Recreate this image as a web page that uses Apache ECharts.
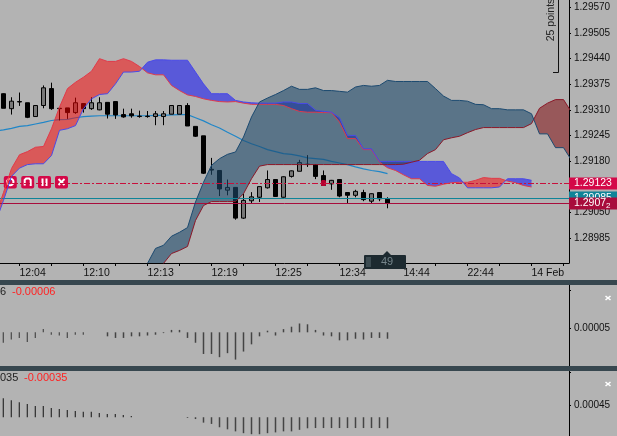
<!DOCTYPE html>
<html>
<head>
<meta charset="utf-8">
<title>Ichimoku chart</title>
<script src="https://cdn.jsdelivr.net/npm/echarts@6/dist/echarts.min.js"></script>
<style>
  html, body { margin: 0; padding: 0; background: #b3b3b3; }
  #chart { width: 617px; height: 436px; }
</style>
</head>
<body>
<div id="chart"></div>
<script>
// candles
const candleOpen = [1.29351,1.29313,1.29331,1.29328,1.29293,1.29321,1.29364,1.29314,1.29315,1.29303,1.29326,1.29313,1.29310,1.29329,1.29331,1.29298,1.29300,1.29294,1.29294,1.29293,1.29293,1.29299,1.29299,1.29321,1.29268,1.29244,1.29159,1.29156,1.29106,1.29113,1.29035,1.29079,1.29088,1.29112,1.29133,1.29088,1.29141,1.29154,1.29172,1.29171,1.29143,1.29122,1.29133,1.29100,1.29093,1.29100,1.29078,1.29100,1.29083];
const candleClose = [1.29314,1.29332,1.29330,1.29291,1.29321,1.29366,1.29313,1.29313,1.29303,1.29328,1.29313,1.29328,1.29328,1.29299,1.29297,1.29292,1.29295,1.29293,1.29293,1.29300,1.29300,1.29321,1.29321,1.29269,1.29243,1.29149,1.29157,1.29109,1.29113,1.29035,1.29080,1.29089,1.29115,1.29133,1.29090,1.29140,1.29155,1.29176,1.29171,1.29141,1.29118,1.29131,1.29091,1.29093,1.29103,1.29082,1.29097,1.29084,1.29072];
const candleLow = [1.29314,1.29298,1.29320,1.29289,1.29292,1.29314,1.29310,1.29283,1.29287,1.29300,1.29303,1.29310,1.29309,1.29288,1.29287,1.29290,1.29290,1.29290,1.29290,1.29271,1.29271,1.29299,1.29299,1.29269,1.29241,1.29147,1.29145,1.29091,1.29093,1.29031,1.29033,1.29073,1.29076,1.29110,1.29089,1.29087,1.29138,1.29154,1.29165,1.29134,1.29117,1.29107,1.29088,1.29072,1.29088,1.29078,1.29072,1.29078,1.29060];
const candleHigh = [1.29352,1.29342,1.29354,1.29328,1.29322,1.29372,1.29379,1.29314,1.29315,1.29341,1.29326,1.29342,1.29342,1.29329,1.29331,1.29313,1.29313,1.29308,1.29307,1.29307,1.29307,1.29322,1.29322,1.29327,1.29268,1.29244,1.29188,1.29156,1.29133,1.29113,1.29097,1.29101,1.29115,1.29156,1.29133,1.29141,1.29156,1.29183,1.29195,1.29172,1.29156,1.29132,1.29134,1.29100,1.29107,1.29107,1.29098,1.29100,1.29088];

// moving average, first value is the bar left of the window
const maLine = [1.29256,1.29259,1.29263,1.29268,1.29270,1.29274,1.29278,1.29283,1.29285,1.29286,1.29290,1.29293,1.29294,1.29295,1.29295,1.29295,1.29295,1.29295,1.29295,1.29295,1.29296,1.29296,1.29297,1.29298,1.29298,1.29290,1.29282,1.29272,1.29264,1.29253,1.29243,1.29232,1.29224,1.29217,1.29209,1.29204,1.29199,1.29197,1.29193,1.29188,1.29186,1.29184,1.29179,1.29175,1.29171,1.29165,1.29160,1.29156,1.29153,1.29148];

// fast cloud (red / blue), first value is the bar left of the window
const spanA = [1.29042,1.29100,1.29161,1.29196,1.29204,1.29215,1.29217,1.29262,1.29317,1.29364,1.29380,1.29393,1.29408,1.29440,1.29433,1.29433,1.29440,1.29433,1.29420,1.29404,1.29399,1.29399,1.29372,1.29359,1.29348,1.29344,1.29338,1.29334,1.29331,1.29330,1.29331,1.29327,1.29324,1.29324,1.29324,1.29324,1.29321,1.29313,1.29306,1.29304,1.29304,1.29303,1.29303,1.29279,1.29237,1.29237,1.29209,1.29209,1.29177,1.29163,1.29156,1.29145,1.29135,1.29135,1.29118,1.29116,1.29121,1.29125,1.29126,1.29126,1.29131,1.29138,1.29136,1.29136,1.29129,1.29125,1.29118,1.29114];
const spanB = [1.29024,1.29080,1.29141,1.29162,1.29171,1.29173,1.29173,1.29194,1.29258,1.29262,1.29270,1.29313,1.29338,1.29349,1.29351,1.29376,1.29406,1.29406,1.29408,1.29431,1.29437,1.29437,1.29436,1.29436,1.29436,1.29406,1.29376,1.29351,1.29351,1.29351,1.29334,1.29330,1.29328,1.29327,1.29327,1.29327,1.29330,1.29330,1.29326,1.29326,1.29309,1.29306,1.29304,1.29290,1.29245,1.29245,1.29211,1.29211,1.29179,1.29179,1.29179,1.29179,1.29179,1.29179,1.29179,1.29179,1.29179,1.29148,1.29137,1.29112,1.29112,1.29112,1.29112,1.29114,1.29135,1.29135,1.29135,1.29131];

// slow cloud (maroon / slate), starts at the 19th bar
const spanC = [1.28864,1.28889,1.28920,1.28945,1.28953,1.28963,1.29029,1.29067,1.29077,1.29077,1.29077,1.29077,1.29097,1.29135,1.29167,1.29171,1.29171,1.29171,1.29171,1.29171,1.29171,1.29171,1.29171,1.29171,1.29171,1.29171,1.29171,1.29171,1.29171,1.29171,1.29171,1.29171,1.29172,1.29177,1.29182,1.29199,1.29209,1.29234,1.29239,1.29243,1.29252,1.29260,1.29265,1.29265,1.29265,1.29265,1.29265,1.29265,1.29275,1.29314,1.29327,1.29336,1.29336,1.29304];
const spanD = [1.28920,1.28958,1.28966,1.28989,1.28999,1.29011,1.29076,1.29126,1.29169,1.29186,1.29197,1.29203,1.29241,1.29292,1.29330,1.29340,1.29349,1.29359,1.29370,1.29362,1.29362,1.29366,1.29359,1.29359,1.29357,1.29355,1.29368,1.29372,1.29370,1.29372,1.29385,1.29382,1.29382,1.29382,1.29382,1.29382,1.29364,1.29345,1.29334,1.29334,1.29332,1.29324,1.29323,1.29313,1.29313,1.29310,1.29310,1.29310,1.29300,1.29249,1.29249,1.29214,1.29214,1.29182];

// lower panels
const histA = [-0.00013,-0.00009,-0.00007,-0.00012,-0.00007,0.00004,-0.00003,-0.00004,-0.00007,-0.00003,-0.00003,null,null,-0.00005,-0.00007,-0.00007,-0.00005,-0.00005,-0.00004,-0.00003,-0.00001,0.00003,0.00003,-0.00007,-0.00013,-0.00027,-0.00027,-0.00031,-0.00026,-0.00034,-0.00024,-0.00015,-0.00005,0.00002,-0.00004,0.00004,0.00007,0.00011,0.0001,0.00003,-0.00004,-0.00005,-0.0001,-0.0001,-0.00008,-0.00009,-0.00007,-0.00007,-0.00008];
const histB = [0.00074,0.00066,0.00058,0.00052,0.00044,0.00044,0.00036,0.00032,0.00028,0.00024,0.00021,0.00021,0.00017,0.00013,0.00013,0.00009,0.00005,null,null,null,null,null,null,-0.00003,-0.00007,-0.00021,-0.00026,-0.00039,-0.00047,-0.00055,-0.00062,-0.00066,-0.00066,-0.00062,-0.00059,-0.00055,-0.00055,-0.00049,-0.00043,-0.00042,-0.00042,-0.00042,-0.00042,-0.00042,-0.00042,-0.00042,-0.00042,-0.00042,-0.00043];

// axis labels
const timeIndex = [2, 10, 18, 26, 34, 42, 50, 58, 66];
const timeLabels = ['12:04', '12:10', '12:13', '12:19', '12:25', '12:34', '14:44', '22:44', '14 Feb'];
const timeTicks = [2, 6, 10, 14, 18, 22, 26, 30, 34, 38, 42, 46, 50, 54, 58, 62, 66, 70];
const priceTicks = [1.2957, 1.29505, 1.2944, 1.29375, 1.2931, 1.29245, 1.2918, 1.29115, 1.2905, 1.28985];
const histATicks = [0.00053, 0.00005];
const histBTicks = [0.00176, 0.00045];

const levels = { bid: 1.29123, teal: 1.29085, ask: 1.29072 };
const crossBar = [40, 1.29124];

const FONT = 'Liberation Sans';
const X_MIN = -0.4375;
const X_MAX = 70.6875;

/** 把两条线按交叉点拆成连续的几块,避免相邻多边形接缝 */
function cloudRuns(a, b, start) {
  const runs = [];
  let upper = [];
  let lower = [];
  let sign = 0;
  const flush = () => {
    if (upper.length > 1) runs.push({ up: sign > 0, points: upper.concat(lower.slice().reverse()) });
    upper = [];
    lower = [];
  };
  a.forEach((v, i) => {
    const x = i + start;
    const d = v - b[i];
    const s = d >= 0 ? 1 : -1;
    if (sign && s !== sign) {
      const prev = a[i - 1] - b[i - 1];
      const t = prev / (prev - d);
      const mid = [x - 1 + t, a[i - 1] + (v - a[i - 1]) * t];
      upper.push(mid);
      lower.push(mid);
      flush();
      upper.push(mid);
      lower.push(mid);
    }
    sign = s;
    upper.push([x, v]);
    lower.push([x, b[i]]);
  });
  flush();
  return runs;
}

function cloudSeries(a, b, start, upColor, downColor, z) {
  const runs = cloudRuns(a, b, start);
  return {
    type: 'custom',
    xAxisIndex: 0,
    yAxisIndex: 0,
    clip: true,
    silent: true,
    z: z,
    data: runs.map((r, i) => [i]),
    encode: { x: 0 },
    renderItem(params, api) {
      const run = runs[api.value(0)];
      return {
        type: 'polygon',
        shape: { points: run.points.map((p) => api.coord(p)) },
        style: { fill: run.up ? upColor : downColor }
      };
    }
  };
}

function edgeLine(values, start, color, z, width) {
  return {
    type: 'line',
    xAxisIndex: 0,
    yAxisIndex: 0,
    data: values.map((v, i) => [i + start, v]),
    showSymbol: false,
    clip: true,
    silent: true,
    z: z,
    lineStyle: { color: color, width: width || 1 }
  };
}

function histSeries(values, idx, from, to, width, color) {
  return {
    type: 'bar',
    xAxisIndex: idx,
    yAxisIndex: idx,
    barWidth: width,
    barGap: '-100%',
    silent: true,
    itemStyle: { color: color },
    data: values.map((v, i) => [i, v]).slice(from, to)
  };
}

function levelItem(value, text, bg, lineStyle, boxHeight) {
  return {
    yAxis: value,
    lineStyle: lineStyle,
    label: {
      show: true,
      position: 'end',
      distance: 0,
      formatter: text,
      color: '#fff',
      fontFamily: FONT,
      fontSize: 10.5,
      backgroundColor: bg,
      width: 43,
      height: boxHeight,
      lineHeight: boxHeight,
      padding: [0, 0, 0, 5],
      rich: { s: { color: '#fff', fontFamily: FONT, fontSize: 8, verticalAlign: 'bottom', lineHeight: boxHeight } }
    }
  };
}

function closeMark(x, y) {
  const line = (x1, y1, x2, y2) => ({
    type: 'line',
    shape: { x1: x1, y1: y1, x2: x2, y2: y2 },
    style: { stroke: '#fff', lineWidth: 1.6 }
  });
  return { type: 'group', x: x, y: y, children: [line(-2.5, -2, 2.5, 2), line(-2.5, 2, 2.5, -2)] };
}

function iconButton(x, glyphs) {
  return {
    type: 'group',
    x: x,
    y: 182,
    z: 20,
    children: [
      { type: 'rect', shape: { x: -6.5, y: -6, width: 13, height: 12.5, r: 2 }, style: { fill: '#d40848' } }
    ].concat(glyphs)
  };
}

const white = { stroke: '#fff', fill: null, lineWidth: 2 };
const icons = [
  iconButton(10.3, [{ type: 'circle', shape: { cx: 0, cy: 0, r: 3.2 }, style: white }]),
  iconButton(27.7, [{ type: 'polyline', shape: { points: [[-3, 3.5], [-3, -2], [-1.5, -3.5], [1.5, -3.5], [3, -2], [3, 4]] }, style: white }]),
  iconButton(44.5, [
    { type: 'line', shape: { x1: -2, y1: -3.5, x2: -2, y2: 4 }, style: white },
    { type: 'line', shape: { x1: 2, y1: -3.5, x2: 2, y2: 4 }, style: white }
  ]),
  iconButton(61.5, [
    { type: 'line', shape: { x1: -3, y1: -3, x2: 3, y2: 3 }, style: white },
    { type: 'line', shape: { x1: -3, y1: 3, x2: 3, y2: -3 }, style: white }
  ])
];

const grip = [0, 1, 2, 3, 4].map((n) => ({
  type: 'line',
  shape: { x1: 366, y1: 258 + n * 2, x2: 371, y2: 258 + n * 2 },
  style: { stroke: '#5d6c72', lineWidth: 1 },
  z: 21
}));

const graphics = [
  // separators
  { type: 'rect', shape: { x: 0, y: 280, width: 617, height: 5 }, style: { fill: '#37474f' }, z: 10 },
  { type: 'rect', shape: { x: 0, y: 366, width: 617, height: 5 }, style: { fill: '#37474f' }, z: 10 },
  // 25 points ruler
  { type: 'polyline', shape: { points: [[558.5, -1], [558.5, 72.5], [553, 72.5]] }, style: { stroke: '#111', fill: null, lineWidth: 1 } },
  { type: 'text', x: 551, y: 20, rotation: Math.PI / 2, style: { text: '25 points', fill: '#222', font: '10.5px "' + FONT + '"', align: 'center', verticalAlign: 'middle' } },
  // bar counter
  { type: 'polygon', shape: { points: [[383, 255], [387, 251], [391, 255]] }, style: { fill: '#1d2a30' }, z: 20 },
  { type: 'rect', shape: { x: 364, y: 255, width: 42, height: 14, r: 1 }, style: { fill: '#1d2a30' }, z: 20 },
  { type: 'text', x: 387, y: 262, z: 21, style: { text: '49', fill: '#76858b', font: '11px "' + FONT + '"', align: 'center', verticalAlign: 'middle' } },
  // panel captions
  { type: 'text', x: 0, y: 292, style: { text: '6', fill: '#222', font: '11px "' + FONT + '"', verticalAlign: 'middle' } },
  { type: 'text', x: 12, y: 292, style: { text: '-0.00006', fill: '#f22', font: '11px "' + FONT + '"', verticalAlign: 'middle' } },
  { type: 'text', x: 0, y: 378, style: { text: '035', fill: '#222', font: '11px "' + FONT + '"', verticalAlign: 'middle' } },
  { type: 'text', x: 24, y: 378, style: { text: '-0.00035', fill: '#f22', font: '11px "' + FONT + '"', verticalAlign: 'middle' } },
  closeMark(608, 298),
  closeMark(608, 384)
].concat(icons, grip);

function priceAxis(idx, min, max, ticks, digits) {
  return {
    type: 'value',
    gridIndex: idx,
    position: 'right',
    min: min,
    max: max,
    scale: true,
    splitLine: { show: false },
    axisLine: { show: true, onZero: false, lineStyle: { color: '#000', width: 1 } },
    axisTick: { show: true, length: 2, customValues: ticks, lineStyle: { color: '#000' } },
    axisLabel: {
      show: true,
      customValues: idx === 0 ? ticks : ticks.slice(1),
      margin: 5,
      color: '#111',
      fontFamily: FONT,
      fontSize: 10,
      formatter: (v) => v.toFixed(digits)
    }
  };
}

function timeAxis(idx) {
  return {
    type: 'value',
    gridIndex: idx,
    min: X_MIN,
    max: X_MAX,
    show: idx === 0,
    splitLine: { show: false },
    axisLine: { show: true, onZero: false, lineStyle: { color: '#000', width: 1 } },
    axisTick: { show: true, length: 3, customValues: timeTicks, lineStyle: { color: '#000' } },
    axisLabel: {
      show: true,
      customValues: timeIndex,
      align: 'left',
      margin: 5,
      color: '#111',
      fontFamily: FONT,
      fontSize: 10.5,
      formatter: (v) => timeLabels[timeIndex.indexOf(v)]
    }
  };
}

const chart = echarts.init(document.getElementById('chart'));
chart.setOption({
  animation: false,
  backgroundColor: '#b3b3b3',
  grid: [
    { left: 0, top: 0, width: 569, height: 263 },
    { left: 0, top: 285, width: 569, height: 81 },
    { left: 0, top: 371, width: 569, height: 65 }
  ],
  xAxis: [timeAxis(0), timeAxis(1), timeAxis(2)],
  yAxis: [
    priceAxis(0, 1.28921, 1.29589, priceTicks, 5),
    priceAxis(1, -0.00042, 0.00059, histATicks, 5),
    priceAxis(2, -0.00073, 0.0018, histBTicks, 5)
  ],
  graphic: graphics,
  series: [
    {
      type: 'candlestick',
      xAxisIndex: 0,
      yAxisIndex: 0,
      barWidth: 5,
      silent: true,
      z: 2,
      itemStyle: { color: '#777', color0: '#000', borderColor: '#000', borderColor0: '#000', borderWidth: 1 },
      data: candleOpen.map((o, i) => [i, o, candleClose[i], candleLow[i], candleHigh[i]])
    },
    edgeLine(maLine, -1, '#1f86c8', 2, 1.2),
    {
      type: 'scatter',
      xAxisIndex: 0,
      yAxisIndex: 0,
      symbol: 'roundRect',
      symbolSize: [5, 6],
      silent: true,
      z: 3,
      itemStyle: { color: '#e4003c' },
      data: [crossBar]
    },
    cloudSeries(spanA, spanB, -1, 'rgba(255,0,0,0.5)', 'rgba(0,0,255,0.5)', 4),
    cloudSeries(spanC, spanD, 18, 'rgba(133,27,30,0.6)', 'rgba(30,73,107,0.6)', 4),
    edgeLine(spanA, -1, '#e03a4a', 5),
    edgeLine(spanB, -1, '#4a4ae8', 5),
    edgeLine(spanC, 18, '#8c1828', 5),
    edgeLine(spanD, 18, '#1c4a70', 5),
    {
      type: 'line',
      xAxisIndex: 0,
      yAxisIndex: 0,
      data: [],
      silent: true,
      z: 6,
      markLine: {
        silent: true,
        symbol: 'none',
        animation: false,
        precision: 5,
        data: [
          levelItem(levels.teal, '1.29085', '#0f8498', { color: '#0f8498', width: 1, type: 'solid' }, 14),
          levelItem(levels.bid, '1.29123', '#d40848', { color: '#c8103c', width: 1, type: [6, 2, 2, 2] }, 12),
          levelItem(levels.ask, '1.2907{s|2}', '#a80c3c', { color: '#a80c3c', width: 1, type: 'solid' }, 12)
        ]
      }
    },
    histSeries(histA, 1, 0, 13, 1, '#333'),
    histSeries(histA, 1, 13, 49, 1.5, '#444'),
    histSeries(histB, 2, 0, 17, 1, '#111'),
    histSeries(histB, 2, 17, 49, 1.5, '#444')
  ]
});
</script>
</body>
</html>
